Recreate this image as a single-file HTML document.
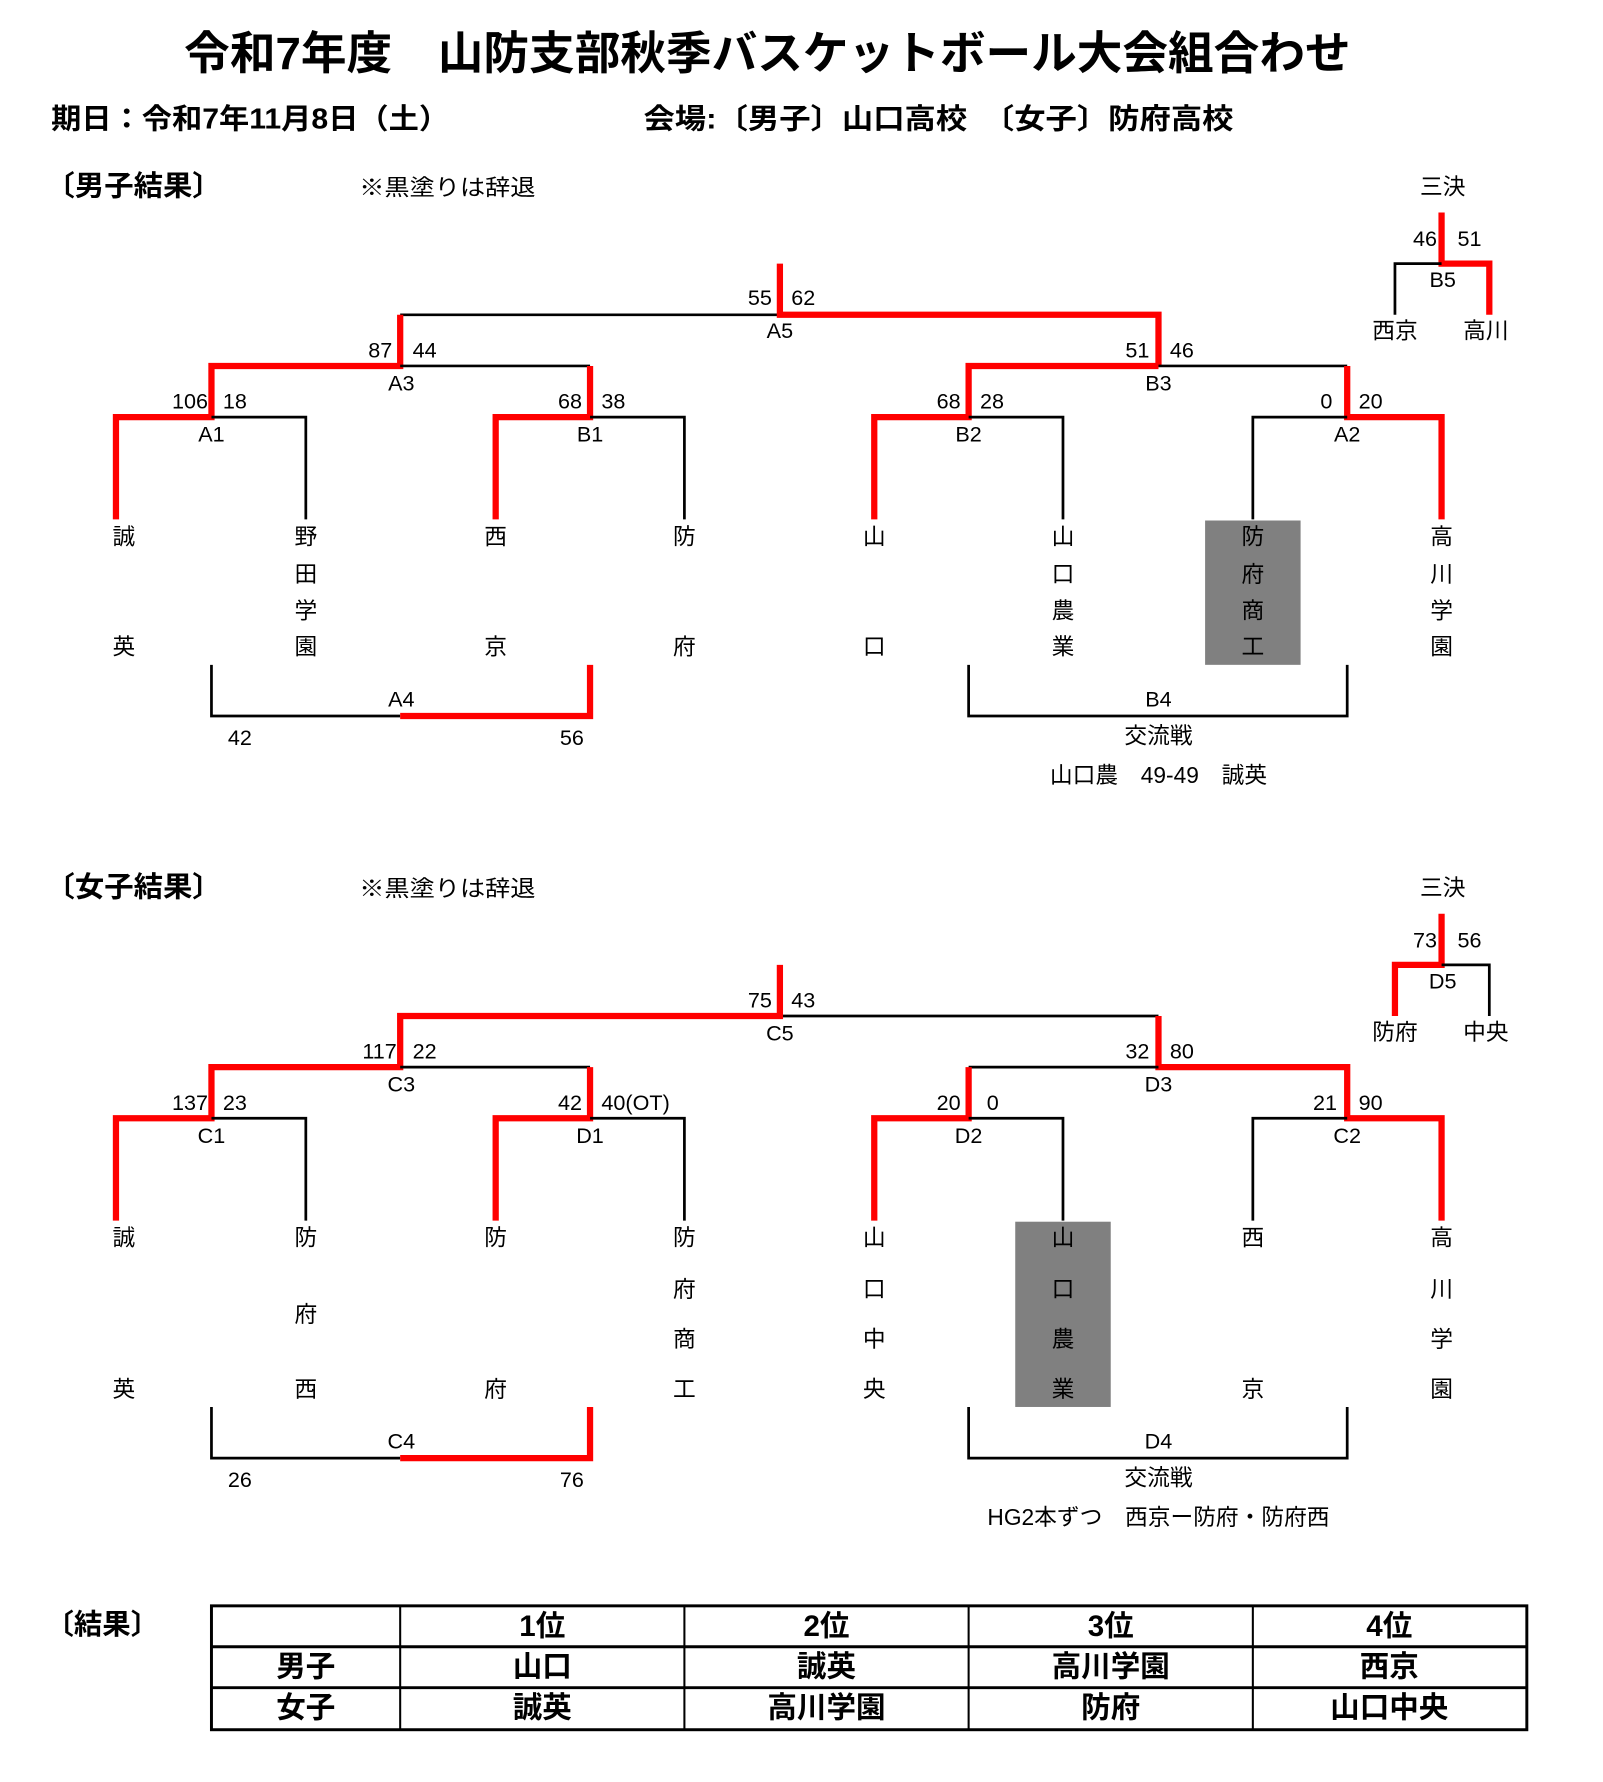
<!DOCTYPE html>
<html><head><meta charset="utf-8"><style>
html,body{margin:0;padding:0;background:#fff;}
svg{display:block;}
text{font-family:"Liberation Sans","Noto Sans CJK JP",sans-serif;fill:#000;dominant-baseline:central;}
.s{font-size:19px;}
.n{font-size:20px;text-anchor:middle;}
.b{font-weight:bold;}
.k{stroke:#000;stroke-width:2.4;fill:none;}
.r{stroke:#f00;stroke-width:5.5;fill:none;}
</style></head><body>
<svg width="1603" height="1782" viewBox="0 0 1410 1568" preserveAspectRatio="none" xmlns="http://www.w3.org/2000/svg">
<rect width="1410" height="1568" fill="#fff"/>
<text x="162" y="47" class="b" style="font-size:40px" textLength="1026" lengthAdjust="spacingAndGlyphs">令和7年度　山防支部秋季バスケットボール大会組合わせ</text>
<text x="45" y="105" class="b" style="font-size:25px" textLength="350" lengthAdjust="spacingAndGlyphs">期日：令和7年11月8日（土）</text>
<text x="566" y="105" class="b" style="font-size:25px" textLength="519" lengthAdjust="spacingAndGlyphs">会場:〔男子〕山口高校　〔女子〕防府高校</text>

<!-- MEN -->
<text x="40" y="164" class="b" style="font-size:25px" textLength="155" lengthAdjust="spacingAndGlyphs">〔男子結果〕</text>
<text x="316" y="165" style="font-size:20px" textLength="155" lengthAdjust="spacingAndGlyphs">※黒塗りは辞退</text>
<text x="1269" y="164" class="n">三決</text>
<rect x="1060" y="458" width="84" height="127" fill="#808080"/>
<g>
<path class="k" d="M352 277H686"/><path class="r" d="M686 232V277H1019V322"/>
<path class="r" d="M352 277V322H186V367H102V457"/><path class="k" d="M352 322H519"/>
<path class="r" d="M1019 322H852V367H769V457"/><path class="k" d="M1019 322H1185"/>
<path class="k" d="M186 367H269V457"/>
<path class="r" d="M519 322V367H436V457"/><path class="k" d="M519 367H602V457"/>
<path class="k" d="M852 367H935V457"/>
<path class="r" d="M1185 322V367H1268V457"/><path class="k" d="M1185 367H1102V457"/>
<path class="k" d="M186 585V630H352"/><path class="r" d="M352 630H519V585"/>
<path class="k" d="M852 585V630H1185V585"/>
<path class="r" d="M1268 187V232H1310V277"/><path class="k" d="M1268 232H1227V277"/>
</g>
<g class="s">
<text x="679" y="262" text-anchor="end">55</text><text x="696" y="262">62</text><text x="686" y="291" text-anchor="middle">A5</text>
<text x="345" y="308" text-anchor="end">87</text><text x="363" y="308">44</text><text x="353" y="337" text-anchor="middle">A3</text>
<text x="1011" y="308" text-anchor="end">51</text><text x="1029" y="308">46</text><text x="1019" y="337" text-anchor="middle">B3</text>
<text x="183" y="353" text-anchor="end">106</text><text x="196" y="353">18</text><text x="186" y="382" text-anchor="middle">A1</text>
<text x="512" y="353" text-anchor="end">68</text><text x="529" y="353">38</text><text x="519" y="382" text-anchor="middle">B1</text>
<text x="845" y="353" text-anchor="end">68</text><text x="862" y="353">28</text><text x="852" y="382" text-anchor="middle">B2</text>
<text x="1172" y="353" text-anchor="end">0</text><text x="1195" y="353">20</text><text x="1185" y="382" text-anchor="middle">A2</text>
<text x="353" y="615" text-anchor="middle">A4</text><text x="211" y="649" text-anchor="middle">42</text><text x="503" y="649" text-anchor="middle">56</text>
<text x="1019" y="615" text-anchor="middle">B4</text>
<text x="1264" y="210" text-anchor="end">46</text><text x="1282" y="210">51</text><text x="1269" y="246" text-anchor="middle">B5</text>
</g>
<text x="1019" y="647" class="n">交流戦</text>
<text x="1019" y="682" class="n">山口農　49-49　誠英</text>
<text x="1227" y="291" class="n">西京</text><text x="1307" y="291" class="n">高川</text>
<g class="n">
<text x="109" y="472">誠</text><text x="109" y="569">英</text>
<text x="269" y="472">野</text><text x="269" y="505">田</text><text x="269" y="537">学</text><text x="269" y="569">園</text>
<text x="436" y="472">西</text><text x="436" y="569">京</text>
<text x="602" y="472">防</text><text x="602" y="569">府</text>
<text x="769" y="472">山</text><text x="769" y="569">口</text>
<text x="935" y="472">山</text><text x="935" y="505">口</text><text x="935" y="537">農</text><text x="935" y="569">業</text>
<text x="1102" y="472">防</text><text x="1102" y="505">府</text><text x="1102" y="537">商</text><text x="1102" y="569">工</text>
<text x="1268" y="472">高</text><text x="1268" y="505">川</text><text x="1268" y="537">学</text><text x="1268" y="569">園</text>
</g>

<!-- WOMEN -->
<text x="40" y="781" class="b" style="font-size:25px" textLength="155" lengthAdjust="spacingAndGlyphs">〔女子結果〕</text>
<text x="316" y="782" style="font-size:20px" textLength="155" lengthAdjust="spacingAndGlyphs">※黒塗りは辞退</text>
<text x="1269" y="781" class="n">三決</text>
<rect x="893" y="1075" width="84" height="163" fill="#808080"/>
<g>
<path class="k" d="M686 894H1019"/><path class="r" d="M686 849V894H352V939H186V984H102V1074"/>
<path class="k" d="M352 939H519"/>
<path class="r" d="M1019 894V939H1185V984H1268V1074"/><path class="k" d="M1019 939H852"/>
<path class="k" d="M186 984H269V1074"/>
<path class="r" d="M519 939V984H436V1074"/><path class="k" d="M519 984H602V1074"/>
<path class="r" d="M852 939V984H769V1074"/><path class="k" d="M852 984H935V1074"/>
<path class="k" d="M1185 984H1102V1074"/>
<path class="k" d="M186 1238V1283H352"/><path class="r" d="M352 1283H519V1238"/>
<path class="k" d="M852 1238V1283H1185V1238"/>
<path class="r" d="M1268 804V849H1227V894"/><path class="k" d="M1268 849H1310V894"/>
</g>
<g class="s">
<text x="679" y="880" text-anchor="end">75</text><text x="696" y="880">43</text><text x="686" y="909" text-anchor="middle">C5</text>
<text x="349" y="925" text-anchor="end">117</text><text x="363" y="925">22</text><text x="353" y="954" text-anchor="middle">C3</text>
<text x="1011" y="925" text-anchor="end">32</text><text x="1029" y="925">80</text><text x="1019" y="954" text-anchor="middle">D3</text>
<text x="183" y="970" text-anchor="end">137</text><text x="196" y="970">23</text><text x="186" y="999" text-anchor="middle">C1</text>
<text x="512" y="970" text-anchor="end">42</text><text x="529" y="970">40(OT)</text><text x="519" y="999" text-anchor="middle">D1</text>
<text x="845" y="970" text-anchor="end">20</text><text x="868" y="970">0</text><text x="852" y="999" text-anchor="middle">D2</text>
<text x="1176" y="970" text-anchor="end">21</text><text x="1195" y="970">90</text><text x="1185" y="999" text-anchor="middle">C2</text>
<text x="353" y="1268" text-anchor="middle">C4</text><text x="211" y="1302" text-anchor="middle">26</text><text x="503" y="1302" text-anchor="middle">76</text>
<text x="1019" y="1268" text-anchor="middle">D4</text>
<text x="1264" y="827" text-anchor="end">73</text><text x="1282" y="827">56</text><text x="1269" y="863" text-anchor="middle">D5</text>
</g>
<text x="1019" y="1300" class="n">交流戦</text>
<text x="1019" y="1335" class="n">HG2本ずつ　西京ー防府・防府西</text>
<text x="1227" y="908" class="n">防府</text><text x="1307" y="908" class="n">中央</text>
<g class="n">
<text x="109" y="1089">誠</text><text x="109" y="1222">英</text>
<text x="269" y="1089">防</text><text x="269" y="1156">府</text><text x="269" y="1222">西</text>
<text x="436" y="1089">防</text><text x="436" y="1222">府</text>
<text x="602" y="1089">防</text><text x="602" y="1134">府</text><text x="602" y="1178">商</text><text x="602" y="1222">工</text>
<text x="769" y="1089">山</text><text x="769" y="1134">口</text><text x="769" y="1178">中</text><text x="769" y="1222">央</text>
<text x="935" y="1089">山</text><text x="935" y="1134">口</text><text x="935" y="1178">農</text><text x="935" y="1222">業</text>
<text x="1102" y="1089">西</text><text x="1102" y="1222">京</text>
<text x="1268" y="1089">高</text><text x="1268" y="1134">川</text><text x="1268" y="1178">学</text><text x="1268" y="1222">園</text>
</g>

<!-- RESULTS -->
<text x="40" y="1430" class="b" style="font-size:25px" textLength="100" lengthAdjust="spacingAndGlyphs">〔結果〕</text>
<g stroke="#000" fill="none">
<rect x="186" y="1413" width="1157" height="109" stroke-width="2.6"/>
<path d="M186 1449H1343M186 1485H1343" stroke-width="2.6"/>
<path d="M352 1413V1522M602 1413V1522M852 1413V1522M1102 1413V1522" stroke-width="1.8"/>
</g>
<g class="b" style="font-size:26px;text-anchor:middle">
<text x="477" y="1431">1位</text><text x="727" y="1431">2位</text><text x="977" y="1431">3位</text><text x="1222" y="1431">4位</text>
<text x="269" y="1467">男子</text><text x="477" y="1467">山口</text><text x="727" y="1467">誠英</text><text x="977" y="1467">高川学園</text><text x="1222" y="1467">西京</text>
<text x="269" y="1503">女子</text><text x="477" y="1503">誠英</text><text x="727" y="1503">高川学園</text><text x="977" y="1503">防府</text><text x="1222" y="1503">山口中央</text>
</g>
</svg>
</body></html>
